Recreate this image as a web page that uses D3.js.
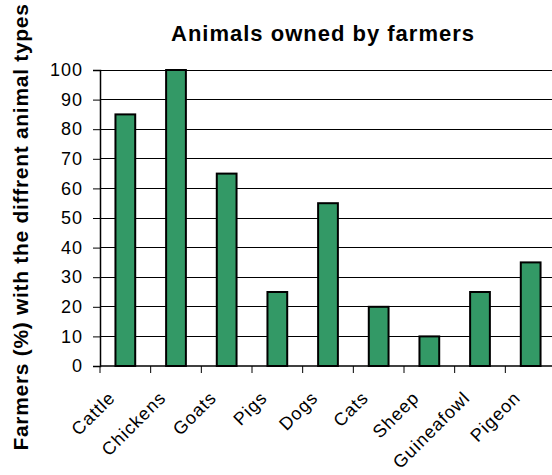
<!DOCTYPE html>
<html>
<head>
<meta charset="utf-8">
<script src="https://cdn.jsdelivr.net/npm/d3@7"></script>
<style>
  body { margin: 0; background: #fff; }
  svg { display: block; font-family: "Liberation Sans", Arial, sans-serif; }
</style>
</head>
<body>
<div id="chart"></div>
<script>
const animals = ["Cattle", "Chickens", "Goats", "Pigs", "Dogs", "Cats", "Sheep", "Guineafowl", "Pigeon"];
const farmersPct = [85, 100, 65, 25, 55, 20, 10, 25, 35];
const yTicks = [0, 10, 20, 30, 40, 50, 60, 70, 80, 90, 100];

const W = 552, H = 475;
const margin = { top: 70, right: -4, bottom: 109, left: 100 };
const width = W - margin.left - margin.right;
const height = H - margin.top - margin.bottom;

const svg = d3.select("#chart")
  .append("svg")
  .attr("width", W)
  .attr("height", H);

const g = svg.append("g")
  .attr("transform", `translate(${margin.left},${margin.top})`);

const x = d3.scaleBand()
  .domain(animals)
  .range([0, width])
  .paddingInner(0.61)
  .paddingOuter(0.305);

const y = d3.scaleLinear()
  .domain([0, 100])
  .range([height, 0]);

// gridlines
g.append("g")
  .selectAll("line")
  .data(yTicks.filter(d => d > 0))
  .join("line")
  .attr("x1", 0)
  .attr("x2", width)
  .attr("y1", d => y(d))
  .attr("y2", d => y(d))
  .attr("stroke", "#000")
  .attr("stroke-width", 1)
  .attr("shape-rendering", "crispEdges");

// bars
g.append("g")
  .selectAll("rect")
  .data(animals)
  .join("rect")
  .attr("x", d => x(d))
  .attr("y", (d, i) => y(farmersPct[i]))
  .attr("width", x.bandwidth())
  .attr("height", (d, i) => height - y(farmersPct[i]))
  .attr("fill", "#339966")
  .attr("stroke", "#000")
  .attr("stroke-width", 2);

// y axis
const yAxis = g.append("g")
  .call(d3.axisLeft(y).tickValues(yTicks).tickSize(7).tickPadding(10));
yAxis.select(".domain").attr("stroke", "#000").attr("stroke-width", 1.5);
yAxis.selectAll(".tick line").attr("stroke", "#000");
yAxis.selectAll(".tick text")
  .attr("font-size", 18)
  .attr("letter-spacing", 1)
  .attr("font-family", "Liberation Sans, Arial, sans-serif")
  .attr("fill", "#000");

// x axis: ticks at category boundaries
const bounds = d3.range(animals.length + 1).map(i => i * width / animals.length);
const xAxis = g.append("g").attr("transform", `translate(0,${height})`);
xAxis.append("line")
  .attr("x1", 0).attr("x2", width)
  .attr("stroke", "#000").attr("stroke-width", 1.5);
xAxis.selectAll("line.tk")
  .data(bounds)
  .join("line")
  .attr("class", "tk")
  .attr("x1", d => d).attr("x2", d => d)
  .attr("y1", 0).attr("y2", 7)
  .attr("stroke", "#000");
xAxis.selectAll("text")
  .data(animals)
  .join("text")
  .attr("transform", d => `translate(${x(d) + x.bandwidth() / 2 - 9},${33}) rotate(-45)`)
  .attr("text-anchor", "end")
  .attr("font-size", 18)
  .attr("letter-spacing", 1)
  .attr("fill", "#000")
  .text(d => d);

// title
svg.append("text")
  .attr("x", 323)
  .attr("y", 41)
  .attr("text-anchor", "middle")
  .attr("font-size", 22)
  .attr("letter-spacing", 1)
  .attr("font-weight", "bold")
  .text("Animals owned by farmers");

// y label
svg.append("text")
  .attr("transform", `translate(28,227) rotate(-90)`)
  .attr("text-anchor", "middle")
  .attr("font-size", 21)
  .attr("letter-spacing", 0.7)
  .attr("font-weight", "bold")
  .text("Farmers (%) with the diffrent animal types");
</script>
</body>
</html>
